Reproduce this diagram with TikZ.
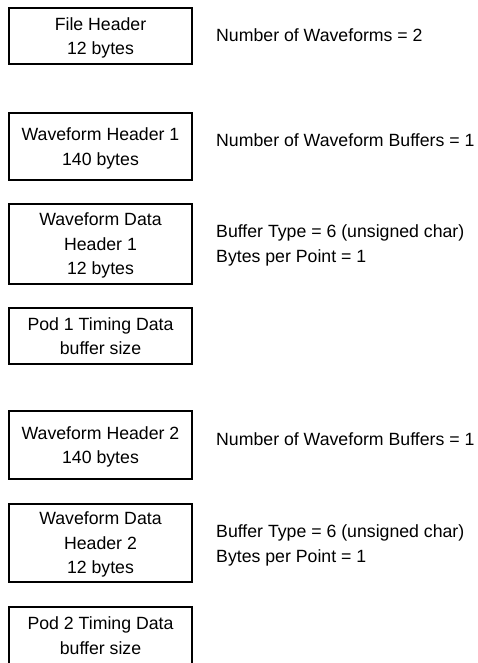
\documentclass[tikz,border=0pt]{standalone}
\usepackage{fontspec}
\setmainfont{Liberation Sans}
\usepackage{tikz}
\usetikzlibrary{positioning}

\tikzset{
  blk/.style={draw=black,line width=1.6pt,minimum width=183pt,inner sep=0pt,align=center,
    text depth=0pt,font=\fontsize{17.7}{24.5}\selectfont},
  note/.style={anchor=west,inner sep=0pt,align=left,text depth=0pt,
    font=\fontsize{17.7}{24.5}\selectfont}
}

\begin{document}
\begin{tikzpicture}[x=1pt,y=1pt]
  \useasboundingbox (0,0) rectangle (478,-663);
  % 左側：ファイル構造のブロック
  \node[blk,minimum height=56pt] (fh)   at (100.5,-36)  {File Header\\12 bytes};
  \node[blk,minimum height=67pt] (wh1)  at (100.5,-146.5) {Waveform Header 1\\140 bytes};
  \node[blk,minimum height=80pt] (wdh1) at (100.5,-244) {Waveform Data\\Header 1\\12 bytes};
  \node[blk,minimum height=56pt] (pod1) at (100.5,-336) {Pod 1 Timing Data\\buffer size};
  \node[blk,minimum height=68pt] (wh2)  at (100.5,-445) {Waveform Header 2\\140 bytes};
  \node[blk,minimum height=78pt] (wdh2) at (100.5,-543) {Waveform Data\\Header 2\\12 bytes};
  \node[blk,minimum height=57pt] (pod2) at (100.5,-635.5) {Pod 2 Timing Data\\buffer size};
  % 右側：各ブロックの内容
  \node[note] (nfh)   at (216,-35)    {Number of Waveforms = 2};
  \node[note] (nwh1)  at (216,-140)   {Number of Waveform Buffers = 1};
  \node[note] (nwdh1) at (216,-243.5) {Buffer Type = 6 (unsigned char)\\Bytes per Point = 1};
  \node[note] (nwh2)  at (216,-439)   {Number of Waveform Buffers = 1};
  \node[note] (nwdh2) at (216,-543.5) {Buffer Type = 6 (unsigned char)\\Bytes per Point = 1};
\end{tikzpicture}
\end{document}
